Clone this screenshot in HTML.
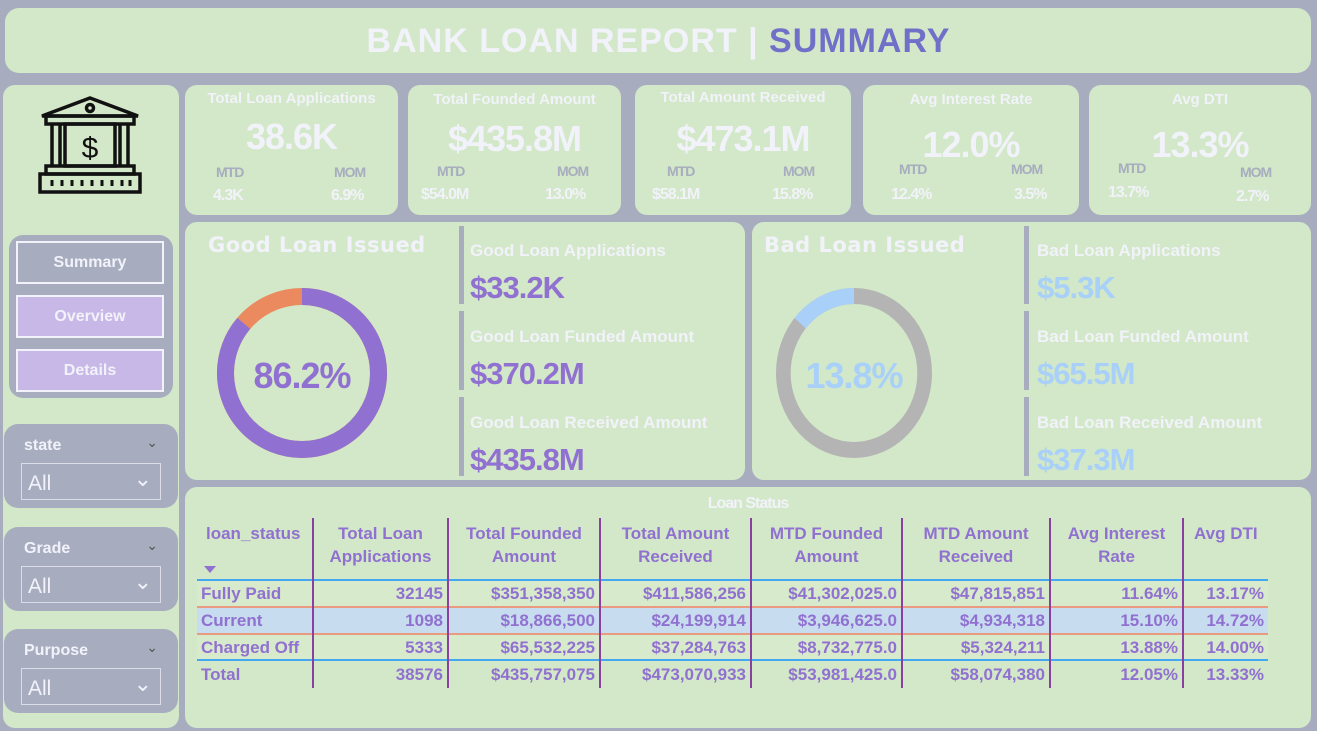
<!DOCTYPE html><html><head><style>
*{margin:0;padding:0;box-sizing:border-box}
body{width:1317px;height:731px;background:#a7adbf;position:relative;overflow:hidden;font-family:"Liberation Sans",sans-serif}
.p{position:absolute;background:#d2e8c8;border-radius:12px}
.a{position:absolute;white-space:nowrap}
.w{color:#f2f2fa;font-weight:bold}
.n{font-family:"Liberation Sans Narrow","Liberation Sans",sans-serif;font-weight:bold;letter-spacing:-1px}
.btn{position:absolute;left:16px;width:148px;height:43px;border:2px solid #f2f2fa;color:#f2f2fa;font-weight:bold;font-size:16px;text-align:center;line-height:39px}
.sl{position:absolute;left:4px;width:174px;height:84px;background:#a7adbf;border-radius:14px}
.sl .t{position:absolute;left:20px;top:13px;font-size:16px;color:#f2f2fa;font-weight:bold}
.sl .b{position:absolute;left:17px;top:39px;width:140px;height:37px;border:1px solid #dcdce8;color:#f2f2fa;font-size:21px;padding:8px 0 0 6px}
.bar{position:absolute;width:5px;background:#a7adbf}
.ml{font-size:17px}
.mv{font-size:31px}
table{position:absolute;left:197px;top:518px;border-collapse:collapse;color:#9070d0;font-weight:bold;font-size:17px}
td{padding:0 4px;height:27px;border-right:2px solid #8a40a0;text-align:right;line-height:26px}
td:first-child{text-align:left}
td:last-child{border-right:none}
th{font-size:17px;color:#9070d0;vertical-align:top;height:62px;border-right:2px solid #8a40a0;font-weight:bold;line-height:23px;padding-top:4px}
th:last-child{border-right:none}
</style></head><body>
<div class="p" style="left:5px;top:8px;width:1306px;height:65px;border-radius:14px"></div>
<div class="a w" style="left:0;width:1317px;top:22px;text-align:center;font-size:34px;letter-spacing:1px">BANK LOAN REPORT | <span style="color:#7070c8">SUMMARY</span></div>

<div class="p" style="left:3px;top:85px;width:176px;height:643px"></div>
<svg class="a" style="left:38px;top:96px" width="104" height="100" viewBox="0 0 104 100" fill="none" stroke="#111" stroke-width="3.5">
<path d="M4 20 L52 2 L100 20 Z"/><circle cx="52" cy="12" r="3.5"/><rect x="8" y="20" width="88" height="8"/>
<path d="M14 28 V70 M22 28 V70 M82 28 V70 M90 28 V70"/><rect x="27" y="28" width="50" height="42"/>
<text x="52" y="62" font-size="30" fill="#111" stroke="none" text-anchor="middle" font-family="Liberation Sans">$</text>
<rect x="8" y="70" width="88" height="8"/><rect x="2" y="78" width="100" height="18"/>
<path d="M14 84v6M24 84v6M34 84v6M44 84v6M54 84v6M64 84v6M74 84v6M84 84v6M92 84v6" stroke-width="3"/>
</svg>
<div class="a" style="left:9px;top:235px;width:164px;height:163px;background:#a7adbf;border-radius:14px"></div>
<div class="btn" style="top:241px;background:#a7adbf">Summary</div>
<div class="btn" style="top:295px;background:#c8b8e8">Overview</div>
<div class="btn" style="top:349px;background:#c8b8e8">Details</div>
<div class="sl" style="top:424px"><div class="t">state</div><div class="a" style="right:20px;top:10px;color:#555;font-size:14px">&#8964;</div><div class="b">All<span style="position:absolute;right:8px;top:2px;font-size:22px">&#8964;</span></div></div>
<div class="sl" style="top:527px"><div class="t">Grade</div><div class="a" style="right:20px;top:10px;color:#555;font-size:14px">&#8964;</div><div class="b">All<span style="position:absolute;right:8px;top:2px;font-size:22px">&#8964;</span></div></div>
<div class="sl" style="top:629px"><div class="t">Purpose</div><div class="a" style="right:20px;top:10px;color:#555;font-size:14px">&#8964;</div><div class="b">All<span style="position:absolute;right:8px;top:2px;font-size:22px">&#8964;</span></div></div>

<!-- KPI cards -->
<div class="p" style="left:185px;top:85px;width:213px;height:130px"></div>
<div class="p" style="left:408px;top:85px;width:213px;height:130px"></div>
<div class="p" style="left:635px;top:85px;width:216px;height:130px"></div>
<div class="p" style="left:863px;top:85px;width:216px;height:130px"></div>
<div class="p" style="left:1089px;top:85px;width:222px;height:130px"></div>

<div class="a w" style="left:185px;width:213px;text-align:center;top:90px;font-size:15px">Total Loan Applications</div>
<div class="a w n" style="left:185px;width:213px;text-align:center;top:116px;font-size:36px">38.6K</div>
<div class="a n" style="left:216px;top:164px;font-size:14px;color:#a7adbf">MTD</div><div class="a n" style="left:334px;top:164px;font-size:14px;color:#a7adbf">MOM</div>
<div class="a w n" style="left:213px;top:187px;font-size:16px">4.3K</div><div class="a w n" style="left:331px;top:187px;font-size:16px">6.9%</div>

<div class="a w" style="left:408px;width:213px;text-align:center;top:91px;font-size:15px">Total Founded Amount</div>
<div class="a w n" style="left:408px;width:213px;text-align:center;top:118px;font-size:36px">$435.8M</div>
<div class="a n" style="left:437px;top:163px;font-size:14px;color:#a7adbf">MTD</div><div class="a n" style="left:557px;top:163px;font-size:14px;color:#a7adbf">MOM</div>
<div class="a w n" style="left:421px;top:186px;font-size:16px">$54.0M</div><div class="a w n" style="left:545px;top:186px;font-size:16px">13.0%</div>

<div class="a w" style="left:635px;width:216px;text-align:center;top:89px;font-size:15px">Total Amount Received</div>
<div class="a w n" style="left:635px;width:216px;text-align:center;top:118px;font-size:36px">$473.1M</div>
<div class="a n" style="left:667px;top:163px;font-size:14px;color:#a7adbf">MTD</div><div class="a n" style="left:783px;top:163px;font-size:14px;color:#a7adbf">MOM</div>
<div class="a w n" style="left:652px;top:186px;font-size:16px">$58.1M</div><div class="a w n" style="left:772px;top:186px;font-size:16px">15.8%</div>

<div class="a w" style="left:863px;width:216px;text-align:center;top:91px;font-size:15px">Avg Interest Rate</div>
<div class="a w n" style="left:863px;width:216px;text-align:center;top:124px;font-size:36px">12.0%</div>
<div class="a n" style="left:899px;top:161px;font-size:14px;color:#a7adbf">MTD</div><div class="a n" style="left:1011px;top:161px;font-size:14px;color:#a7adbf">MOM</div>
<div class="a w n" style="left:891px;top:186px;font-size:16px">12.4%</div><div class="a w n" style="left:1014px;top:186px;font-size:16px">3.5%</div>

<div class="a w" style="left:1089px;width:222px;text-align:center;top:91px;font-size:15px">Avg DTI</div>
<div class="a w n" style="left:1089px;width:222px;text-align:center;top:124px;font-size:36px">13.3%</div>
<div class="a n" style="left:1118px;top:160px;font-size:14px;color:#a7adbf">MTD</div><div class="a n" style="left:1240px;top:164px;font-size:14px;color:#a7adbf">MOM</div>
<div class="a w n" style="left:1108px;top:184px;font-size:16px">13.7%</div><div class="a w n" style="left:1236px;top:188px;font-size:16px">2.7%</div>

<!-- Good / Bad -->
<div class="p" style="left:185px;top:222px;width:560px;height:258px"></div>
<div class="p" style="left:752px;top:222px;width:559px;height:258px"></div>
<div class="a w" style="left:208px;top:233px;font-size:21px;letter-spacing:0.5px;font-family:'DejaVu Sans',sans-serif">Good Loan Issued</div>
<div class="a w" style="left:764px;top:233px;font-size:21px;letter-spacing:0.5px;font-family:'DejaVu Sans',sans-serif">Bad Loan Issued</div>
<svg class="a" style="left:217px;top:288px" width="170" height="170">
<circle cx="85" cy="85" r="76.5" stroke="#ea8a5e" stroke-width="17" fill="none"/>
<circle cx="85" cy="85" r="76.5" stroke="#9070d0" stroke-width="17" fill="none" stroke-dasharray="414.3 1000" transform="rotate(-90 85 85)"/>
</svg>
<div class="a n" style="left:217px;width:170px;text-align:center;top:355px;font-size:36px;color:#9070d0">86.2%</div>
<svg class="a" style="left:776px;top:288px" width="156" height="170">
<g transform="scale(0.9176 1)">
<circle cx="85" cy="85" r="77" stroke="#b4b4b4" stroke-width="16" fill="none"/>
<circle cx="85" cy="85" r="77" stroke="#a8d0f8" stroke-width="16" fill="none" stroke-dasharray="66.8 1000" transform="rotate(-139.7 85 85)"/>
</g></svg>
<div class="a n" style="left:776px;width:156px;text-align:center;top:355px;font-size:36px;color:#a8d0f8">13.8%</div>

<div class="bar" style="left:459px;top:226px;height:78px"></div>
<div class="bar" style="left:459px;top:311px;height:79px"></div>
<div class="bar" style="left:459px;top:397px;height:79px"></div>
<div class="a w ml" style="left:470px;top:241px">Good Loan Applications</div>
<div class="a n mv" style="left:470px;top:270px;color:#9070d0">$33.2K</div>
<div class="a w ml" style="left:470px;top:327px">Good Loan Funded Amount</div>
<div class="a n mv" style="left:470px;top:356px;color:#9070d0">$370.2M</div>
<div class="a w ml" style="left:470px;top:413px">Good Loan Received Amount</div>
<div class="a n mv" style="left:470px;top:442px;color:#9070d0">$435.8M</div>

<div class="bar" style="left:1024px;top:226px;height:78px"></div>
<div class="bar" style="left:1024px;top:311px;height:79px"></div>
<div class="bar" style="left:1024px;top:397px;height:79px"></div>
<div class="a w ml" style="left:1037px;top:241px">Bad Loan Applications</div>
<div class="a n mv" style="left:1037px;top:270px;color:#a8d0f8">$5.3K</div>
<div class="a w ml" style="left:1037px;top:327px">Bad Loan Funded Amount</div>
<div class="a n mv" style="left:1037px;top:356px;color:#a8d0f8">$65.5M</div>
<div class="a w ml" style="left:1037px;top:413px">Bad Loan Received Amount</div>
<div class="a n mv" style="left:1037px;top:442px;color:#a8d0f8">$37.3M</div>

<!-- Table -->
<div class="p" style="left:185px;top:487px;width:1126px;height:241px"></div>
<div class="a w n" style="left:185px;width:1126px;text-align:center;top:495px;font-size:16px">Loan Status</div>
<div class="a" style="left:197px;top:607px;width:1071px;height:27px;background:#c8dcf0"></div>
<div class="a" style="left:197px;top:580px;width:1071px;height:27px;background:#d8eacc"></div>
<div class="a" style="left:197px;top:634px;width:1071px;height:26px;background:#d8eacc"></div>
<div class="a" style="left:197px;top:579px;width:1071px;height:2px;background:#44a8f0"></div>
<div class="a" style="left:197px;top:606px;width:1071px;height:2px;background:#ea9a7e"></div>
<div class="a" style="left:197px;top:633px;width:1071px;height:2px;background:#ea9a7e"></div>
<div class="a" style="left:197px;top:659px;width:1071px;height:2px;background:#44a8f0"></div>
<div class="a" style="left:204px;top:566px;width:0;height:0;border-left:6px solid transparent;border-right:6px solid transparent;border-top:7px solid #9070d0"></div>
<table>
<tr><th style="width:116px;text-align:left;padding-left:9px">loan_status</th><th style="width:135px">Total Loan<br>Applications</th><th style="width:152px">Total Founded<br>Amount</th><th style="width:151px">Total Amount<br>Received</th><th style="width:151px">MTD Founded<br>Amount</th><th style="width:148px">MTD Amount<br>Received</th><th style="width:133px">Avg Interest<br>Rate</th><th style="width:85px;text-align:left;padding-left:10px">Avg DTI</th></tr>
<tr><td>Fully Paid</td><td>32145</td><td>$351,358,350</td><td>$411,586,256</td><td>$41,302,025.0</td><td>$47,815,851</td><td>11.64%</td><td>13.17%</td></tr>
<tr><td>Current</td><td>1098</td><td>$18,866,500</td><td>$24,199,914</td><td>$3,946,625.0</td><td>$4,934,318</td><td>15.10%</td><td>14.72%</td></tr>
<tr><td>Charged Off</td><td>5333</td><td>$65,532,225</td><td>$37,284,763</td><td>$8,732,775.0</td><td>$5,324,211</td><td>13.88%</td><td>14.00%</td></tr>
<tr><td>Total</td><td>38576</td><td>$435,757,075</td><td>$473,070,933</td><td>$53,981,425.0</td><td>$58,074,380</td><td>12.05%</td><td>13.33%</td></tr>
</table>
</body></html>
